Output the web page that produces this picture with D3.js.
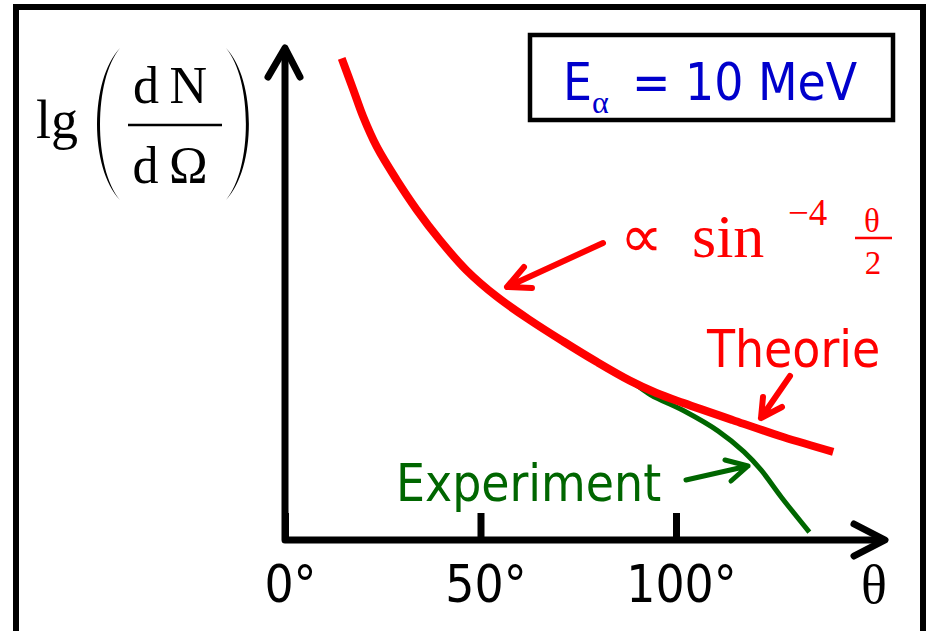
<!DOCTYPE html>
<html>
<head>
<meta charset="utf-8">
<script src="https://cdn.jsdelivr.net/npm/d3@7"></script>
<style>
  body { margin: 0; background: #fff; }
  .sans { font-family: "DejaVu Sans Condensed", "DejaVu Sans", sans-serif; font-stretch: condensed; }
  .serif { font-family: "Liberation Serif", "Times New Roman", serif; }
</style>
</head>
<body>
<div id="chart"></div>
<script>
// scattering angle in degrees, lg(dN/dOmega) in arbitrary units
var theoryAngle = [14.5, 17.5, 20, 23.5, 28.6, 33.7, 39.6, 46.4, 54.1, 62.7, 71.2, 79.7, 88.2, 95, 101.8, 114.6, 127.4, 140.2];
var theoryValue = [9.73, 9.09, 8.55, 7.94, 7.27, 6.67, 6.06, 5.45, 4.92, 4.44, 4.01, 3.60, 3.22, 2.97, 2.77, 2.42, 2.08, 1.78];

var expAngle = [28.6, 33.7, 39.6, 46.4, 54.1, 62.7, 71.2, 79.7, 88.2, 93.6, 102, 110.8, 117.4, 121.8, 126.9, 134.1];
var expValue = [7.27, 6.67, 6.06, 5.45, 4.92, 4.44, 4.01, 3.60, 3.22, 2.93, 2.61, 2.20, 1.78, 1.41, 0.87, 0.16];

var tickValues = [0, 50, 100];

var width = 928, height = 631;

var theory = theoryAngle.map(function(a, i) { return {a: a, v: theoryValue[i]}; });
var experiment = expAngle.map(function(a, i) { return {a: a, v: expValue[i]}; });

var svg = d3.select("#chart")
    .append("svg")
    .attr("width", width)
    .attr("height", height);

// outer frame
svg.append("rect")
    .attr("x", 16).attr("y", 7)
    .attr("width", 907).attr("height", 700)
    .attr("fill", "none")
    .attr("stroke", "#000")
    .attr("stroke-width", 6);

var x = d3.scaleLinear().domain([0, 100]).range([285, 676]);
var y = d3.scaleLinear().domain([0, 10]).range([540, 45]);

// ticks + labels
var xAxis = svg.append("g")
    .attr("transform", "translate(0," + y(0) + ")")
    .call(d3.axisBottom(x)
        .tickValues(tickValues)
        .tickSizeInner(-27)
        .tickSizeOuter(0)
        .tickPadding(26)
        .tickFormat(function(d) { return d + "°"; }));
xAxis.select(".domain").remove();
xAxis.selectAll("line")
    .attr("stroke", "#000")
    .attr("stroke-width", 7);
xAxis.selectAll("text")
    .attr("class", "sans")
    .attr("dx", 5)
    .style("font-size", "51px")
    .attr("fill", "#000");

// axes with open arrow heads
svg.append("path")
    .attr("d", "M" + x(0) + "," + 48 + " L" + x(0) + "," + y(0) + " L885," + y(0))
    .attr("fill", "none")
    .attr("stroke", "#000")
    .attr("stroke-width", 7)
    .attr("stroke-linejoin", "round");
svg.append("path")
    .attr("d", "M268,77 L" + x(0) + ",48 L300,77")
    .attr("fill", "none")
    .attr("stroke", "#000")
    .attr("stroke-width", 7)
    .attr("stroke-linecap", "round")
    .attr("stroke-linejoin", "round");
svg.append("path")
    .attr("d", "M854,524 L885," + y(0) + " L854,556")
    .attr("fill", "none")
    .attr("stroke", "#000")
    .attr("stroke-width", 7)
    .attr("stroke-linecap", "round")
    .attr("stroke-linejoin", "round");

// curves
var line = d3.line()
    .x(function(d) { return x(d.a); })
    .y(function(d) { return y(d.v); })
    .curve(d3.curveCatmullRom);

svg.append("path")
    .datum(experiment)
    .attr("d", line)
    .attr("fill", "none")
    .attr("stroke", "#006600")
    .attr("stroke-width", 5);

svg.append("path")
    .datum(theory)
    .attr("d", line)
    .attr("fill", "none")
    .attr("stroke", "#ff0000")
    .attr("stroke-width", 8);

// annotation arrows
function arrow(pts, color, w) {
    svg.append("path")
        .attr("d", "M" + pts[0] + " L" + pts[1] + " M" + pts[2] + " L" + pts[1] + " L" + pts[3])
        .attr("fill", "none")
        .attr("stroke", color)
        .attr("stroke-width", w)
        .attr("stroke-linecap", "round")
        .attr("stroke-linejoin", "round");
}
arrow([[603, 243], [507, 287], [524, 267], [532, 288]], "#ff0000", 6);
arrow([[790, 376], [761, 418], [763, 397], [782, 407]], "#ff0000", 6);
arrow([[686, 480], [748, 466], [725, 460], [731, 481]], "#006600", 5);

// labels
svg.append("text").attr("class", "sans")
    .attr("x", 707).attr("y", 367)
    .style("font-size", "51px").attr("fill", "#ff0000")
    .text("Theorie");
svg.append("text").attr("class", "sans")
    .attr("x", 396).attr("y", 501)
    .style("font-size", "51px").attr("fill", "#006600")
    .text("Experiment");

// formula  ∝ sin^-4 (θ/2)
svg.append("text").attr("class", "serif")
    .attr("x", 620).attr("y", 257)
    .style("font-size", "60px").attr("fill", "#ff0000")
    .text("∝");
svg.append("text").attr("class", "serif")
    .attr("x", 692).attr("y", 257)
    .style("font-size", "62px").attr("fill", "#ff0000")
    .text("sin");
svg.append("text").attr("class", "serif")
    .attr("x", 788).attr("y", 225)
    .style("font-size", "37px").attr("fill", "#ff0000")
    .text("−4");
svg.append("text").attr("class", "serif")
    .attr("x", 872).attr("y", 232).attr("text-anchor", "middle")
    .style("font-size", "33px").attr("fill", "#ff0000")
    .text("θ");
svg.append("line")
    .attr("x1", 855).attr("x2", 892).attr("y1", 238).attr("y2", 238)
    .attr("stroke", "#ff0000").attr("stroke-width", 2.5);
svg.append("text").attr("class", "serif")
    .attr("x", 873).attr("y", 274).attr("text-anchor", "middle")
    .style("font-size", "33px").attr("fill", "#ff0000")
    .text("2");

// energy box
svg.append("rect")
    .attr("x", 530).attr("y", 35)
    .attr("width", 363).attr("height", 85)
    .attr("fill", "none")
    .attr("stroke", "#000")
    .attr("stroke-width", 4.5);
svg.append("text").attr("class", "sans")
    .attr("x", 563).attr("y", 100)
    .style("font-size", "51px").attr("fill", "#0000cc")
    .text("E");
svg.append("text").attr("class", "serif")
    .attr("x", 592).attr("y", 113)
    .style("font-size", "32px").attr("fill", "#0000cc")
    .text("α");
svg.append("text").attr("class", "sans")
    .attr("x", 632).attr("y", 100)
    .style("font-size", "51px").attr("fill", "#0000cc")
    .text("= 10 MeV");

// y label  lg(dN/dΩ)
svg.append("text").attr("class", "serif")
    .attr("x", 36).attr("y", 138)
    .style("font-size", "54px").attr("fill", "#000")
    .text("lg");
svg.append("path")
    .attr("d", "M120,48 C89.5,80 89.5,168 120,200 C93.5,168 93.5,80 120,48 Z")
    .attr("fill", "#000");
svg.append("path")
    .attr("d", "M226,48 C256.5,80 256.5,168 226,200 C252.5,168 252.5,80 226,48 Z")
    .attr("fill", "#000");
svg.append("text").attr("class", "serif")
    .attr("x", 170).attr("y", 103).attr("text-anchor", "middle")
    .style("font-size", "52px").attr("fill", "#000")
    .text("d\u2009N");
svg.append("line")
    .attr("x1", 128).attr("x2", 222).attr("y1", 125).attr("y2", 125)
    .attr("stroke", "#000").attr("stroke-width", 2.5);
svg.append("text").attr("class", "serif")
    .attr("x", 170).attr("y", 183).attr("text-anchor", "middle")
    .style("font-size", "52px").attr("fill", "#000")
    .text("d\u2009Ω");

// axis label theta
svg.append("text").attr("class", "serif")
    .attr("x", 861).attr("y", 603)
    .style("font-size", "54px").attr("fill", "#000")
    .text("θ");
</script>
</body>
</html>
